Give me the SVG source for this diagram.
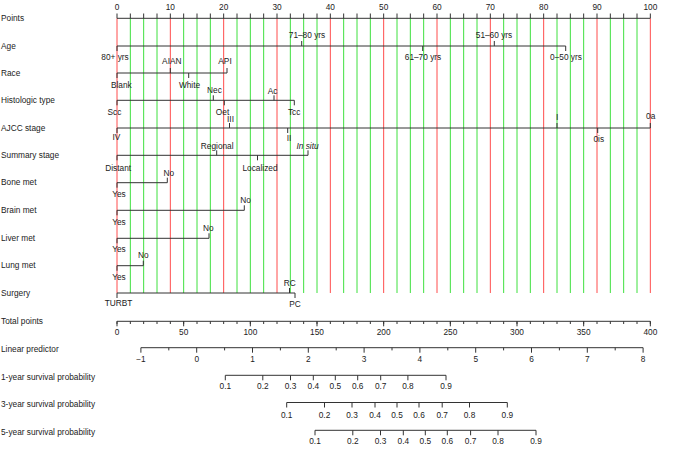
<svg xmlns="http://www.w3.org/2000/svg" width="684" height="449" viewBox="0 0 684 449">
<style>
text{font-family:"Liberation Sans",Arial,sans-serif;font-size:8.3px;fill:#222}
.m{text-anchor:middle}
.ax{stroke:#333;stroke-width:1;fill:none}
.red{stroke:#ff4d4d;stroke-width:1;fill:none}
.grn{stroke:#3fe03f;stroke-width:1;fill:none}
</style>
<rect width="684" height="449" fill="#fff"/>
<g id="grid">
<path class="red" d="M117 18.3V293M170.33 18.3V293M223.67 18.3V293M277 18.3V293M330.33 18.3V293M383.67 18.3V293M437 18.3V293M490.33 18.3V293M543.67 18.3V293M597 18.3V293M650.33 18.3V293"/>
<path class="grn" d="M130.33 18.3V293M143.67 18.3V293M157 18.3V293M183.67 18.3V293M197 18.3V293M210.33 18.3V293M237 18.3V293M250.33 18.3V293M263.67 18.3V293M290.33 18.3V293M303.67 18.3V293M317 18.3V293M343.67 18.3V293M357 18.3V293M370.33 18.3V293M397 18.3V293M410.33 18.3V293M423.67 18.3V293M450.33 18.3V293M463.67 18.3V293M477 18.3V293M503.67 18.3V293M517 18.3V293M530.33 18.3V293M557 18.3V293M570.33 18.3V293M583.67 18.3V293M610.33 18.3V293M623.67 18.3V293M637 18.3V293"/>
</g>
<g id="connectors">
<path class="ax" d="M117 46H565.7M117 73H227M117 100.3H294.3M117 128H650.3M117 155.3H308M117 182.7H167.3M117 210.3H244.3M117 238.3H209M117 265.7H143.3M117 293H295"/>
</g>
<g id="points">
<text x="1" y="20.5">Points</text>
<path class="ax" d="M117 18.3H650.33"/>
<path class="ax" d="M117 13.5V18.3M130.33 13.5V18.3M143.67 13.5V18.3M157 13.5V18.3M170.33 13.5V18.3M183.67 13.5V18.3M197 13.5V18.3M210.33 13.5V18.3M223.67 13.5V18.3M237 13.5V18.3M250.33 13.5V18.3M263.67 13.5V18.3M277 13.5V18.3M290.33 13.5V18.3M303.67 13.5V18.3M317 13.5V18.3M330.33 13.5V18.3M343.67 13.5V18.3M357 13.5V18.3M370.33 13.5V18.3M383.67 13.5V18.3M397 13.5V18.3M410.33 13.5V18.3M423.67 13.5V18.3M437 13.5V18.3M450.33 13.5V18.3M463.67 13.5V18.3M477 13.5V18.3M490.33 13.5V18.3M503.67 13.5V18.3M517 13.5V18.3M530.33 13.5V18.3M543.67 13.5V18.3M557 13.5V18.3M570.33 13.5V18.3M583.67 13.5V18.3M597 13.5V18.3M610.33 13.5V18.3M623.67 13.5V18.3M637 13.5V18.3M650.33 13.5V18.3"/>
<text class="m" x="117" y="9.7">0</text><text class="m" x="170.33" y="9.7">10</text><text class="m" x="223.67" y="9.7">20</text><text class="m" x="277" y="9.7">30</text><text class="m" x="330.33" y="9.7">40</text><text class="m" x="383.67" y="9.7">50</text><text class="m" x="437" y="9.7">60</text><text class="m" x="490.33" y="9.7">70</text><text class="m" x="543.67" y="9.7">80</text><text class="m" x="597" y="9.7">90</text><text class="m" x="650.33" y="9.7">100</text>
</g>
<g id="age">
<text x="1" y="48.5">Age</text>
<path class="ax" d="M117 46V51M301.7 41V46M422.7 46V51M494.3 41V46M565.7 46V51"/>
<text class="m" x="115" y="60">80+ yrs</text><text class="m" x="307" y="37.5">71–80 yrs</text><text class="m" x="423" y="59.7">61–70 yrs</text><text class="m" x="494" y="37.5">51–60 yrs</text><text class="m" x="566" y="59.7">0–50 yrs</text>
</g>
<g id="race">
<text x="1" y="75.5">Race</text>
<path class="ax" d="M117 73V78M170.3 68V73M188.7 73V78M227 68V73"/>
<text class="m" x="121.3" y="87.7">Blank</text><text class="m" x="171.8" y="64.3">AIAN</text><text class="m" x="189.5" y="87.7">White</text><text class="m" x="225" y="64.3">API</text>
</g>
<g id="histologic">
<text x="1" y="102.8">Histologic type</text>
<path class="ax" d="M117 100.3V105.3M213.3 95.3V100.3M224.3 100.3V105.3M274 95.3V100.3M294.3 100.3V105.3"/>
<text class="m" x="114.5" y="114.7">Scc</text><text class="m" x="214.5" y="93">Nec</text><text class="m" x="222.5" y="114.7">Oet</text><text class="m" x="272.5" y="93.5">Ac</text><text class="m" x="294.2" y="114.7">Tcc</text>
</g>
<g id="ajcc">
<text x="1" y="130.5">AJCC stage</text>
<path class="ax" d="M117 128V133M229.5 123V128M287.7 128V133M557 123V128M597.7 128V133M650.3 123V128"/>
<text class="m" x="116.3" y="139.7">IV</text><text class="m" x="230.5" y="122">III</text><text class="m" x="289" y="141">II</text><text class="m" x="557.2" y="119.7">I</text><text class="m" x="598.8" y="142.3">0is</text><text class="m" x="650.7" y="119.3">0a</text>
</g>
<g id="summary">
<text x="1" y="158.3">Summary stage</text>
<path class="ax" d="M117 155.3V160.3M216.7 150.3V155.3M257.5 155.3V160.3M308 150.3V155.3"/>
<text class="m" x="118.2" y="170.7">Distant</text><text class="m" x="217.2" y="148.7">Regional</text><text class="m" x="260" y="170.7">Localized</text><text class="m" x="307.5" y="148.7" font-style="italic">In situ</text>
</g>
<g id="bone">
<text x="1" y="185.2">Bone met</text>
<path class="ax" d="M117 182.7V187.7M167.3 177.7V182.7"/>
<text class="m" x="119" y="197">Yes</text><text class="m" x="168.8" y="176.3">No</text>
</g>
<g id="brain">
<text x="1" y="212.8">Brain met</text>
<path class="ax" d="M117 210.3V215.3M244.3 205.3V210.3"/>
<text class="m" x="119" y="224.7">Yes</text><text class="m" x="245.5" y="203.3">No</text>
</g>
<g id="liver">
<text x="1" y="240.8">Liver met</text>
<path class="ax" d="M117 238.3V243.3M209 233.3V238.3"/>
<text class="m" x="119" y="252.3">Yes</text><text class="m" x="208.2" y="231.3">No</text>
</g>
<g id="lung">
<text x="1" y="268.2">Lung met</text>
<path class="ax" d="M117 265.7V270.7M143.3 260.7V265.7"/>
<text class="m" x="119" y="279.7">Yes</text><text class="m" x="143.2" y="258">No</text>
</g>
<g id="surgery">
<text x="1" y="295.8">Surgery</text>
<path class="ax" d="M117 293V298M289.5 288V293M295 293V298"/>
<text class="m" x="118.5" y="305.7">TURBT</text><text class="m" x="289.7" y="285.7">RC</text><text class="m" x="295" y="307">PC</text>
</g>
<g id="total">
<text x="1" y="323.7">Total points</text>
<path class="ax" d="M117 321.3H650.33"/>
<path class="ax" d="M117 321.3V324M130.33 321.3V324M143.67 321.3V324M157 321.3V324M170.33 321.3V324M183.67 321.3V324M197 321.3V324M210.33 321.3V324M223.67 321.3V324M237 321.3V324M250.33 321.3V324M263.67 321.3V324M277 321.3V324M290.33 321.3V324M303.67 321.3V324M317 321.3V324M330.33 321.3V324M343.67 321.3V324M357 321.3V324M370.33 321.3V324M383.67 321.3V324M397 321.3V324M410.33 321.3V324M423.67 321.3V324M437 321.3V324M450.33 321.3V324M463.67 321.3V324M477 321.3V324M490.33 321.3V324M503.67 321.3V324M517 321.3V324M530.33 321.3V324M543.67 321.3V324M557 321.3V324M570.33 321.3V324M583.67 321.3V324M597 321.3V324M610.33 321.3V324M623.67 321.3V324M637 321.3V324M650.33 321.3V324"/>
<path class="ax" d="M117 321.3V326.3M183.67 321.3V326.3M250.33 321.3V326.3M317 321.3V326.3M383.67 321.3V326.3M450.33 321.3V326.3M517 321.3V326.3M583.67 321.3V326.3M650.33 321.3V326.3"/>
<text class="m" x="117" y="335.3">0</text><text class="m" x="183.67" y="335.3">50</text><text class="m" x="250.33" y="335.3">100</text><text class="m" x="317" y="335.3">150</text><text class="m" x="383.67" y="335.3">200</text><text class="m" x="450.33" y="335.3">250</text><text class="m" x="517" y="335.3">300</text><text class="m" x="583.67" y="335.3">350</text><text class="m" x="650.33" y="335.3">400</text>
</g>
<g id="lp">
<text x="1" y="351.5">Linear predictor</text>
<path class="ax" d="M140.9 347.7H643.1"/>
<path class="ax" d="M140.9 347.7V352.7M196.7 347.7V352.7M252.5 347.7V352.7M308.3 347.7V352.7M364.1 347.7V352.7M419.9 347.7V352.7M475.7 347.7V352.7M531.5 347.7V352.7M587.3 347.7V352.7M643.1 347.7V352.7M168.8 347.7V350.4M224.6 347.7V350.4M280.4 347.7V350.4M336.2 347.7V350.4M392 347.7V350.4M447.8 347.7V350.4M503.6 347.7V350.4M559.4 347.7V350.4M615.2 347.7V350.4"/>
<text class="m" x="140.9" y="362">−1</text><text class="m" x="196.7" y="362">0</text><text class="m" x="252.5" y="362">1</text><text class="m" x="308.3" y="362">2</text><text class="m" x="364.1" y="362">3</text><text class="m" x="419.9" y="362">4</text><text class="m" x="475.7" y="362">5</text><text class="m" x="531.5" y="362">6</text><text class="m" x="587.3" y="362">7</text><text class="m" x="643.1" y="362">8</text>
</g>
<g id="surv1">
<text x="1" y="379.5">1-year survival probability</text>
<path class="ax" d="M225.3 375.3H446M225.3 375.3V380.3M262.8 375.3V380.3M290.5 375.3V380.3M313.3 375.3V380.3M335.3 375.3V380.3M357.7 375.3V380.3M380.7 375.3V380.3M407.9 375.3V380.3M446 375.3V380.3"/>
<text class="m" x="225.3" y="389.3">0.1</text><text class="m" x="262.8" y="389.3">0.2</text><text class="m" x="290.5" y="389.3">0.3</text><text class="m" x="313.3" y="389.3">0.4</text><text class="m" x="335.3" y="389.3">0.5</text><text class="m" x="357.7" y="389.3">0.6</text><text class="m" x="380.7" y="389.3">0.7</text><text class="m" x="407.9" y="389.3">0.8</text><text class="m" x="446" y="389.3">0.9</text>
</g>
<g id="surv3">
<text x="1" y="406.5">3-year survival probability</text>
<path class="ax" d="M286.7 402.5H507.3M286.7 402.5V407.5M324.5 402.5V407.5M352 402.5V407.5M375 402.5V407.5M397 402.5V407.5M419 402.5V407.5M442.2 402.5V407.5M469.5 402.5V407.5M507.3 402.5V407.5"/>
<text class="m" x="286.7" y="417.7">0.1</text><text class="m" x="324.5" y="417.7">0.2</text><text class="m" x="352" y="417.7">0.3</text><text class="m" x="375" y="417.7">0.4</text><text class="m" x="397" y="417.7">0.5</text><text class="m" x="419" y="417.7">0.6</text><text class="m" x="442.2" y="417.7">0.7</text><text class="m" x="469.5" y="417.7">0.8</text><text class="m" x="507.3" y="417.7">0.9</text>
</g>
<g id="surv5">
<text x="1" y="434.5">5-year survival probability</text>
<path class="ax" d="M315 430.3H536M315 430.3V435.3M352.8 430.3V435.3M380.5 430.3V435.3M403.3 430.3V435.3M425.3 430.3V435.3M447.3 430.3V435.3M470.6 430.3V435.3M498 430.3V435.3M536 430.3V435.3"/>
<text class="m" x="315" y="444.3">0.1</text><text class="m" x="352.8" y="444.3">0.2</text><text class="m" x="380.5" y="444.3">0.3</text><text class="m" x="403.3" y="444.3">0.4</text><text class="m" x="425.3" y="444.3">0.5</text><text class="m" x="447.3" y="444.3">0.6</text><text class="m" x="470.6" y="444.3">0.7</text><text class="m" x="498" y="444.3">0.8</text><text class="m" x="536" y="444.3">0.9</text>
</g>
</svg>
